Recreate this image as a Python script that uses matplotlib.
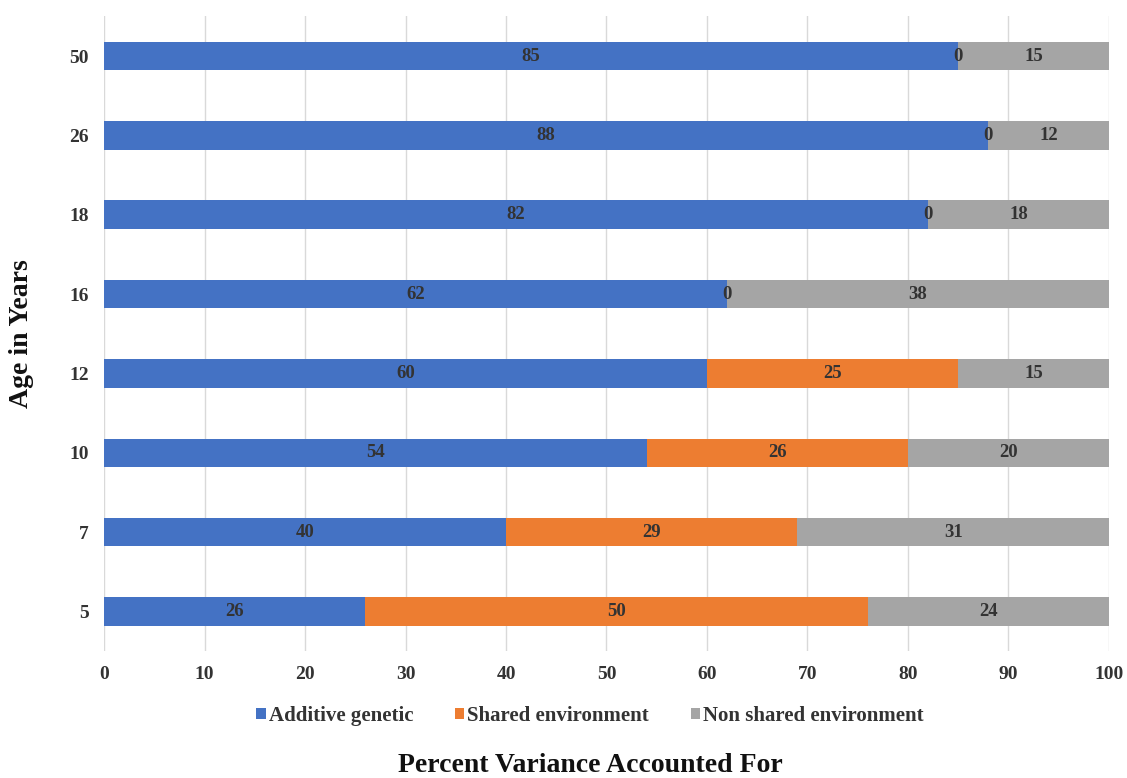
import matplotlib
matplotlib.use("Agg")
import matplotlib.pyplot as plt
import numpy as np

ages = ["5", "7", "10", "12", "16", "18", "26", "50"]
additive = [26, 40, 54, 60, 62, 82, 88, 85]
shared = [50, 29, 26, 25, 0, 0, 0, 0]
nonshared = [24, 31, 20, 15, 38, 18, 12, 15]
series_names = ["Additive genetic", "Shared environment", "Non shared environment"]
colors = ["#4472C4", "#ED7D31", "#A5A5A5"]
xticks = list(range(0, 101, 10))

plt.rcParams['font.family'] = ['Liberation Serif', 'DejaVu Serif']

fig = plt.figure(figsize=(11.27, 7.78), dpi=100)
ax = fig.add_axes([0.0923, 0.163, 0.8917, 0.816])

y = np.arange(len(ages))
left = np.zeros(len(ages))
for vals, name, col in zip([additive, shared, nonshared], series_names, colors):
    vals = np.array(vals, dtype=float)
    ax.barh(y, vals, left=left, height=0.36, color=col, label=name, zorder=3)
    for yi, l, v in zip(y, left, vals):
        if name == "Shared environment" and v == 0:
            continue
        ax.text(l + v / 2, yi, f"{int(v)}", ha="center", va="center",
                fontsize=13.5, fontweight="bold", color="#333333", zorder=4)
    left += vals
# zero labels for shared environment
for yi, a, s in zip(y, additive, shared):
    if s == 0:
        ax.text(a, yi, "0", ha="center", va="center", fontsize=13.5,
                fontweight="bold", color="#333333", zorder=4)

ax.set_xlim(0, 100)
ax.set_ylim(-0.5, len(ages) - 0.5)
ax.set_xticks(xticks)
ax.set_xticklabels([str(t) for t in xticks], fontsize=14, fontweight="bold", color="#333333")
ax.set_yticks(y)
ax.set_yticklabels(ages, fontsize=14, fontweight="bold", color="#333333")
ax.tick_params(axis='x', length=0, pad=11)
ax.tick_params(axis='y', length=0, pad=11)
for s in ax.spines.values():
    s.set_visible(False)
ax.grid(axis='x', color="#D9D9D9", linewidth=1, zorder=0)

fig.text(0.0195, 0.571, "Age in Years", rotation=90, ha="center", va="center",
         fontsize=20, fontweight="bold", color="#111111")
fig.text(0.5235, 0.0167, "Percent Variance Accounted For", ha="center", va="center",
         fontsize=20, fontweight="bold", color="#111111")

leg = fig.legend(loc="center", bbox_to_anchor=(0.5235, 0.08), ncol=3, frameon=False,
                 handlelength=0.45, handleheight=0.45, handletextpad=0.15,
                 columnspacing=2.0, prop={'weight': 'bold', 'size': 15})
for t in leg.get_texts():
    t.set_color("#333333")

fig.savefig("out.png", dpi=100, facecolor="white")
